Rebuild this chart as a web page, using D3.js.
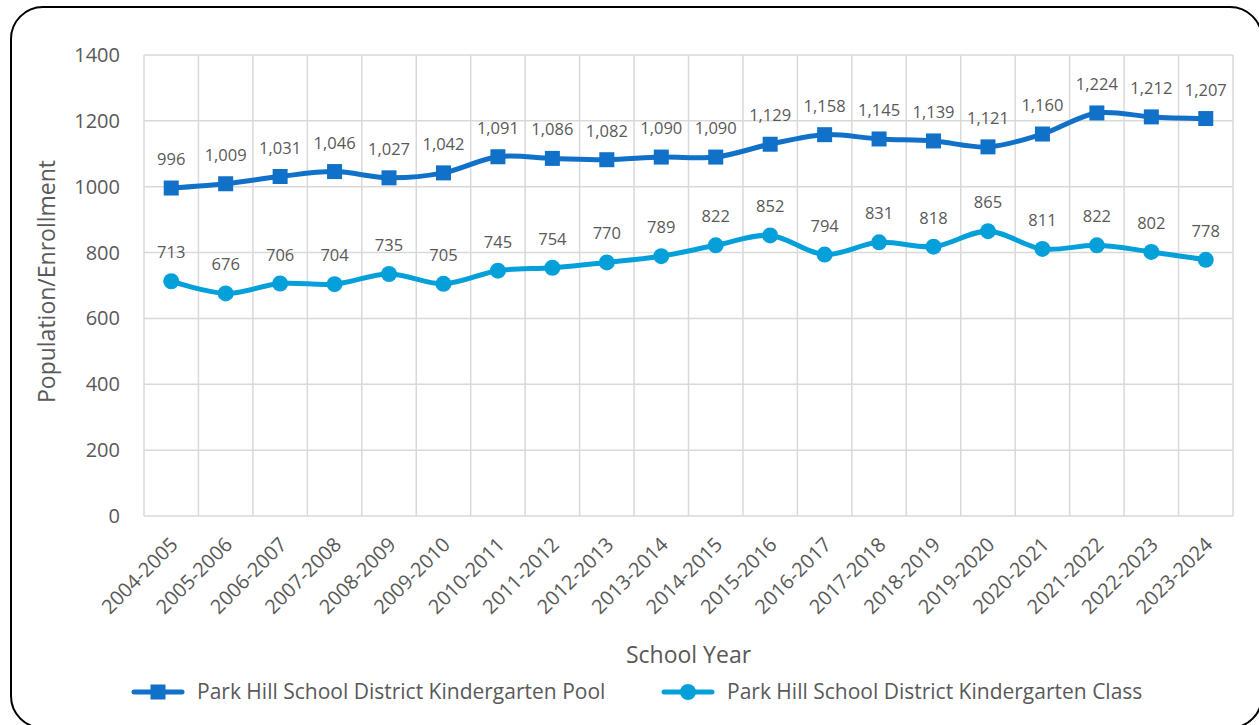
<!DOCTYPE html>
<html>
<head>
<meta charset="utf-8">
<script src="https://cdn.jsdelivr.net/npm/d3@7"></script>
<style>
  body { margin: 0; background: #fff; }
  svg text { font-family: "Open Sans", "Noto Sans", sans-serif; fill: #595959; }
</style>
</head>
<body>
<div id="chart"></div>
<script>
const years = ["2004-2005","2005-2006","2006-2007","2007-2008","2008-2009","2009-2010","2010-2011","2011-2012","2012-2013","2013-2014","2014-2015","2015-2016","2016-2017","2017-2018","2018-2019","2019-2020","2020-2021","2021-2022","2022-2023","2023-2024"];
const poolValues = [996,1009,1031,1046,1027,1042,1091,1086,1082,1090,1090,1129,1158,1145,1139,1121,1160,1224,1212,1207];
const classValues = [713,676,706,704,735,705,745,754,770,789,822,852,794,831,818,865,811,822,802,778];
const yTicks = [0,200,400,600,800,1000,1200,1400];
const seriesNames = ["Park Hill School District Kindergarten Pool","Park Hill School District Kindergarten Class"];
const colors = ["#1170c8", "#05a0da"];

const W = 1259, H = 725;
const margin = { top: 55, right: 26, bottom: 209, left: 144 };
const width = W - margin.left - margin.right;
const height = H - margin.top - margin.bottom;

const svg = d3.select("#chart").append("svg")
  .attr("width", W).attr("height", H);

// outer frame
svg.append("rect")
  .attr("x", 11).attr("y", 7)
  .attr("width", 1251).attr("height", 721)
  .attr("rx", 32).attr("ry", 32)
  .attr("fill", "none").attr("stroke", "#000").attr("stroke-width", 2);

const g = svg.append("g").attr("transform", `translate(${margin.left},${margin.top})`);

const x = d3.scaleBand().domain(years).range([0, width]);
const y = d3.scaleLinear().domain([0, 1400]).range([height, 0]);
const cx = d => x(d) + x.bandwidth() / 2;

// gridlines
g.selectAll(".hgrid").data(yTicks).enter().append("line")
  .attr("x1", 0).attr("x2", width)
  .attr("y1", d => y(d)).attr("y2", d => y(d))
  .attr("stroke", "#d9d9d9").attr("stroke-width", 1.5);
g.selectAll(".vgrid").data(years.concat(["end"])).enter().append("line")
  .attr("x1", (d, i) => i * x.bandwidth()).attr("x2", (d, i) => i * x.bandwidth())
  .attr("y1", 0).attr("y2", height)
  .attr("stroke", "#d9d9d9").attr("stroke-width", 1.5);

// y axis labels
g.selectAll(".ytick").data(yTicks).enter().append("text")
  .attr("x", -24).attr("y", d => y(d)).attr("dy", "0.35em")
  .attr("text-anchor", "end").attr("font-size", 20)
  .text(d => d);

// x axis labels
g.selectAll(".xtick").data(years).enter().append("text")
  .attr("transform", d => `translate(${cx(d) + 3},${height + 25}) rotate(-45)`)
  .attr("text-anchor", "end").attr("dy", "0.35em").attr("font-size", 20)
  .text(d => d);

// axis titles
svg.append("text")
  .attr("x", margin.left + width / 2).attr("y", 663)
  .attr("text-anchor", "middle").attr("font-size", 23)
  .text("School Year");
svg.append("text")
  .attr("transform", `translate(55,${margin.top + height / 2 - 4}) rotate(-90)`)
  .attr("text-anchor", "middle").attr("font-size", 23)
  .text("Population/Enrollment");

const line = d3.line()
  .x((d, i) => cx(years[i]))
  .y(d => y(d))
  .curve(d3.curveCatmullRom.alpha(0.5));

const fmt = d3.format(",");

[poolValues, classValues].forEach((vals, s) => {
  g.append("path").datum(vals)
    .attr("d", line)
    .attr("fill", "none").attr("stroke", colors[s])
    .attr("stroke-width", 5).attr("stroke-linecap", "round");
  if (s === 0) {
    g.selectAll(".sq").data(vals).enter().append("rect")
      .attr("x", (d, i) => cx(years[i]) - 7.5).attr("y", d => y(d) - 7.5)
      .attr("width", 15).attr("height", 15).attr("fill", colors[s]);
  } else {
    g.selectAll(".dot").data(vals).enter().append("circle")
      .attr("cx", (d, i) => cx(years[i])).attr("cy", d => y(d))
      .attr("r", 8).attr("fill", colors[s]);
  }
  g.selectAll(".lbl" + s).data(vals).enter().append("text")
    .attr("x", (d, i) => cx(years[i])).attr("y", d => y(d) - 23)
    .attr("text-anchor", "middle").attr("font-size", 16.5)
    .text(d => fmt(d));
});

// legend
const legend = svg.append("g");
const legendX = [134, 664];
seriesNames.forEach((name, s) => {
  const lg = legend.append("g").attr("transform", `translate(${legendX[s]},692)`);
  lg.append("line").attr("x1", 0).attr("x2", 48).attr("y1", 0).attr("y2", 0)
    .attr("stroke", colors[s]).attr("stroke-width", 5).attr("stroke-linecap", "round");
  if (s === 0) {
    lg.append("rect").attr("x", 16.5).attr("y", -7.5).attr("width", 15).attr("height", 15).attr("fill", colors[s]);
  } else {
    lg.append("circle").attr("cx", 24).attr("cy", 0).attr("r", 8).attr("fill", colors[s]);
  }
  lg.append("text").attr("x", 63).attr("y", 0).attr("dy", "0.35em")
    .attr("font-size", 21).text(name);
});
</script>
</body>
</html>
